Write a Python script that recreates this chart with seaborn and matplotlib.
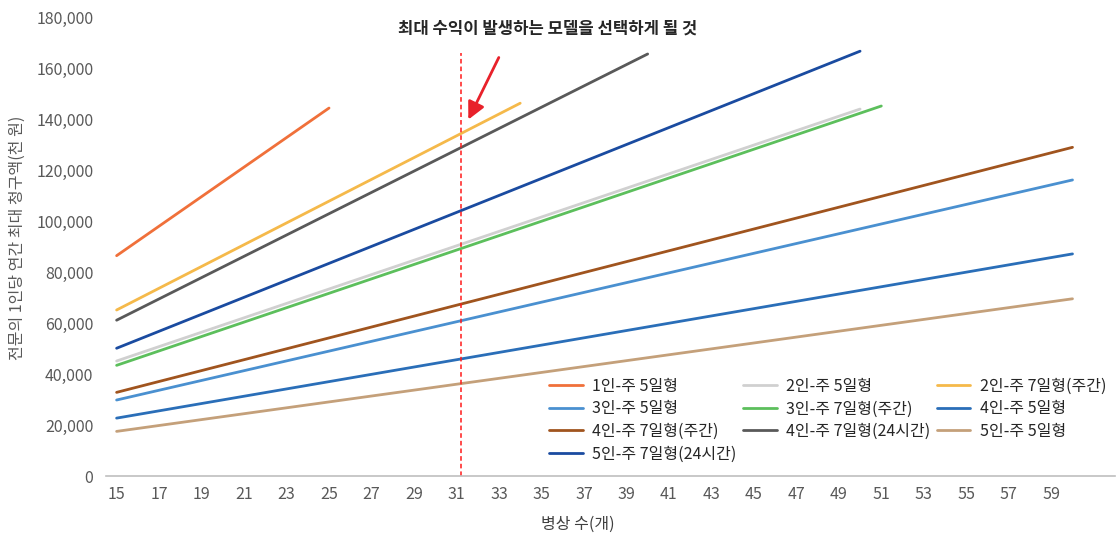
import pandas as pd
import matplotlib
matplotlib.use("Agg")
import matplotlib.pyplot as plt
from matplotlib.ticker import FuncFormatter
import seaborn as sns

# Series (straight lines): start / end bed counts and amounts (thousand won)
models = [
    '1인-주 5일형', '2인-주 5일형', '2인-주 7일형(주간)', '3인-주 5일형',
    '3인-주 7일형(주간)', '4인-주 5일형', '4인-주 7일형(주간)',
    '4인-주 7일형(24시간)', '5인-주 5일형', '5인-주 7일형(24시간)',
]
start_beds = [15, 15, 15, 15, 15, 15, 15, 15, 15, 15]
end_beds = [25, 50, 34, 60, 51, 60, 60, 40, 60, 50]
start_vals = [86400, 45100, 65100, 29800, 43400, 22700, 32800, 61100, 17500, 50100]
end_vals = [144300, 143900, 146200, 116100, 145100, 87100, 128900, 165500, 69500, 166600]
colors = ['#F0703A', '#D0D0D0', '#F5B94A', '#4A90D0', '#5CBF5C',
          '#2A6EB8', '#A0541E', '#595959', '#C4A07A', '#1A4BA0']

x_ticks = list(range(15, 60, 2))
y_ticks = list(range(0, 180001, 20000))
chosen_beds = 31.2

rows = []
for m, b0, b1, v0, v1 in zip(models, start_beds, end_beds, start_vals, end_vals):
    rows.append({'model': m, 'beds': b0, 'amount': v0})
    rows.append({'model': m, 'beds': b1, 'amount': v1})
df = pd.DataFrame(rows)

sns.set_theme(style='white')
plt.rcParams['font.family'] = ['Noto Sans CJK KR', 'DejaVu Sans']

fig = plt.figure(figsize=(11.18, 5.4), dpi=100)
ax = fig.add_axes([0.0948, 0.1185, 0.9025, 0.85])

sns.lineplot(data=df, x='beds', y='amount', hue='model', hue_order=models,
             palette=dict(zip(models, colors)), linewidth=2.0, ax=ax,
             estimator=None, sort=False)

# red dashed marker line and arrow
ax.plot([chosen_beds, chosen_beds], [0, 166000], color='#FF1A1A',
        linestyle=(0, (3, 2)), linewidth=1.1)
ax.annotate('', xy=(31.5, 138800), xytext=(33.05, 165100),
            arrowprops=dict(arrowstyle='-|>', color='#E8212A', lw=2.0,
                            mutation_scale=26))
fig.text(0.49, 0.948, '최대 수익이 발생하는 모델을 선택하게 될 것',
         ha='center', va='center', fontsize=12, fontweight='bold', color='#262626')

ax.set_xlim(14.5, 62.0)
ax.set_ylim(0, 180000)
ax.set_xticks(x_ticks)
ax.set_yticks(y_ticks)
ax.yaxis.set_major_formatter(FuncFormatter(lambda v, p: f'{int(v):,}'))
ax.tick_params(axis='both', labelsize=11.5, colors='#595959', length=0)
ax.tick_params(axis='x', pad=7)
ax.tick_params(axis='y', pad=9)

for s in ['top', 'right', 'left']:
    ax.spines[s].set_visible(False)
ax.spines['bottom'].set_color('#BFBFBF')
ax.spines['bottom'].set_linewidth(1.2)

ax.set_xlabel('병상 수(개)', fontsize=11.5, color='#404040')
ax.xaxis.set_label_coords(0.468, -0.087)
ax.set_ylabel('전문의 1인당 연간 최대 청구액(천 원)', fontsize=11.5, color='#595959')
ax.yaxis.set_label_coords(-0.079, 0.52)

# legend in Excel row order
handles, labels = ax.get_legend_handles_labels()
order = [0, 3, 6, 9, 1, 4, 7, 2, 5, 8]
ax.legend([handles[i] for i in order], [labels[i] for i in order],
          ncol=3, frameon=False, loc='upper left', bbox_to_anchor=(0.433, 0.228),
          fontsize=11.5, handlelength=2.1, handletextpad=0.6,
          columnspacing=0.4, labelspacing=0.35, borderaxespad=0)

fig.savefig('out.png', dpi=100)
